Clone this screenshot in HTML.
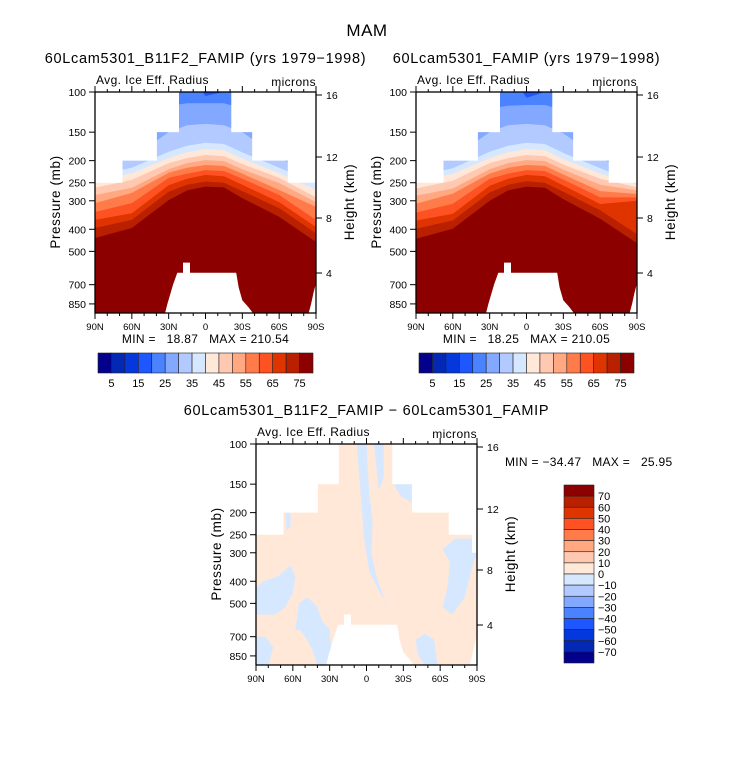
<!DOCTYPE html>
<html><head><meta charset="utf-8"><style>
body{margin:0;background:#fff;}
svg{display:block;font-family:"Liberation Sans",sans-serif;}
text{white-space:pre;}
</style></head><body>
<svg id="chart" width="733" height="758" viewBox="0 0 733 758" xmlns="http://www.w3.org/2000/svg">
<text x="367" y="36" font-size="17" text-anchor="middle" letter-spacing="0.5">MAM</text>
</svg>
<script>
// ---- data ----
const palette = ['#03008c','#0228b4','#0438dc','#1e56ff','#4a82ff','#82a8ff','#b2caff','#d6e8ff','#ffe8d8','#ffc8b0','#ffa882','#ff7c4a','#ff5222','#e03400','#b82000','#8c0000'];
const lats = [90,60,30,15,0,-15,-30,-60,-90];
const levels = [75,70,65,60,55,50,45,40,35,30,25,20];
const leftBounds = [
 [437,395,298,270,260,262,292,353,455],
 [395,364,274,255,247,250,272,323,416],
 [364,340,256,240,231,234,255,304,391],
 [336,307,238,228,220,222,240,283,364],
 [307,277,226,215,209,211,228,269,319],
 [283,263,218,205,199,201,218,251,304],
 [263,243,205,195,189,191,207,238,290],
 [245,227,195,184,178,180,196,227,269],
 [232,215,183,172,167,169,184,215,251],
 [200,195,150,140,138,140,150,195,230],
 [150,150,115,112,112,112,118,150,150],
 [80,80,80,80,104,100,80,80,80]
];
const rightBounds = [
 [440,398,300,270,260,263,295,360,460],
 [398,366,276,255,246,250,274,330,420],
 [366,342,258,240,231,234,257,310,300],
 [338,309,240,228,220,222,242,290,290],
 [309,279,228,215,209,211,230,272,280],
 [285,265,218,205,199,201,219,255,270],
 [265,245,205,195,189,191,208,240,262],
 [247,229,195,184,178,180,197,228,255],
 [234,216,183,172,167,169,185,216,250],
 [200,195,150,140,138,140,152,195,230],
 [150,150,118,115,114,114,120,150,150],
 [80,80,80,80,106,100,80,80,80]
];
const dataTop = [[90,68,250],[68,40,200],[40,22,150],[22,-21,100],[-21,-38,150],[-38,-67,200],[-67,-90,250]];
const topoMask = [[33,935],[31,850],[26.5,700],[23,620],[18.3,620],[18.3,560],[12.6,560],[12.6,620],[-25,620],[-27,720],[-30,820],[-35,880],[-38.7,935]];
const poleMask = [[-84,935],[-86,850],[-88,760],[-90,690],[-90,935]];
const diffTop = [[90,68,250],[68,40,200],[40,23,150],[23,-21,100],[-21,-37,150],[-37,-67,200],[-67,-86,250],[-86,-90,300]];
const diffBlue = [
 [[90,430],[84,400],[72,380],[62,340],[58,380],[60,450],[66,520],[75,560],[90,560]],
 [[55,500],[48,470],[40,520],[36,600],[30,650],[28,935],[40,935],[44,800],[50,700],[58,650]],
 [[90,700],[82,700],[76,780],[80,935],[90,935]],
 [[8,100],[0,100],[-2,160],[-5,220],[-4,300],[-8,380],[-14,470],[-18,520],[-10,440],[-2,360],[2,260],[5,160]],
 [[-6,100],[-14,100],[-14,140],[-10,160]],
 [[-62,290],[-68,330],[-66,420],[-62,520],[-70,560],[-80,470],[-86,350],[-90,300],[-86,260],[-72,260]],
 [[-22,150],[-37,150],[-37,180],[-28,170]],
 [[-40,720],[-48,680],[-55,720],[-58,935],[-48,935],[-42,850]],
 [[66,200],[62,200],[62,230],[65,240]]
];
const diffPeach = [
 [[62,700],[55,650],[50,700],[52,935],[60,935]]
];
const pTicks = [100,150,200,250,300,400,500,700,850];
const hTicks = [16,12,8,4];
const hOffsets = [3,65,126,181];
const latTicks = [90,60,30,0,-30,-60,-90];
const latLabels = ['90N','60N','30N','0','30S','60S','90S'];
const cbLabelsTop = ['5','15','25','35','45','55','65','75'];
const cbLabelsDiff = ['70','60','50','40','30','20','10','0','\u221210','\u221220','\u221230','\u221240','\u221250','\u221260','\u221270'];

// ---- drawing ----
const NS='http://www.w3.org/2000/svg';
const svg=document.getElementById('chart');
function el(tag,attrs,parent,text){const e=document.createElementNS(NS,tag);for(const k in attrs)e.setAttribute(k,attrs[k]);if(text!==undefined)e.textContent=text;(parent||svg).appendChild(e);return e;}
const W=221,H=221,K=228;
function mk(x0,y0){return {x:lat=>x0+(90-lat)/180*W, y:p=>y0+K*Math.log10(p/100), x0,y0};}
let clipN=0;
function panelBase(x0,y0,name){
  const g=el('g',{});
  
  
  const id='clip'+(clipN++);
  const cp=el('clipPath',{id},g);el('rect',{x:x0,y:y0,width:W,height:H},cp);
  const inner=el('g',{'clip-path':`url(#${id})`},g);
  return {g,inner};
}
function polyPts(a,ax){return a.map(([la,p])=>ax.x(la).toFixed(1)+','+ax.y(p).toFixed(1)).join(' ');}
function masks(inner,ax,steps){
  steps.forEach(([a,b,p])=>{const r=el('rect',{x:ax.x(a),y:ax.y0-1,width:ax.x(b)-ax.x(a)+0.5,height:ax.y(p)-ax.y0+1,fill:'#fff'},inner);
    });
  [topoMask,poleMask].forEach(m=>{const p=el('polygon',{points:polyPts(m,ax),fill:'#fff'},inner);
    });
}
function axes(g,ax,title,left){
  const x0=ax.x0,y0=ax.y0;
  el('rect',{x:x0,y:y0,width:W,height:H,fill:'none',stroke:'#000','stroke-width':1.3},g);
  for(let la=90;la>=-90;la-=10){const x=ax.x(la);const maj=la%30===0;const L=maj?6:3;
    el('line',{x1:x,y1:y0+H,x2:x,y2:y0+H+L,stroke:'#000'},g);el('line',{x1:x,y1:y0,x2:x,y2:y0-L,stroke:'#000'},g);}
  latTicks.forEach((la,i)=>{const t=el('text',{x:ax.x(la),y:y0+H+17,'font-size':9.5,'text-anchor':'middle'},g,latLabels[i]);
    });
  pTicks.forEach(p=>{const y=ax.y(p);el('line',{x1:x0,y1:y,x2:x0-6,y2:y,stroke:'#000'},g);
    const t=el('text',{x:x0-9,y:y+4,'font-size':10.5,'text-anchor':'end'},g,p);
    });
  hTicks.forEach((h,i)=>{const y=y0+hOffsets[i];el('line',{x1:x0+W,y1:y,x2:x0+W+6,y2:y,stroke:'#000'},g);
    const t=el('text',{x:x0+W+10,y:y+4,'font-size':10.5},g,h);
    });
  let t=el('text',{x:(x0+W/2),y:y0-29,'font-size':14.5,'text-anchor':'middle','letter-spacing':'0.7'},g,title);
  
  t=el('text',{x:x0+1,y:y0-8,'font-size':12,'letter-spacing':'0.4'},g,'Avg. Ice Eff. Radius');
  
  t=el('text',{x:x0+W,y:y0-6,'font-size':12,'text-anchor':'end','letter-spacing':'0.4'},g,'microns');
  
  if(left){t=el('text',{transform:`translate(${x0-35},${y0+110}) rotate(-90)`,'font-size':13.5,'text-anchor':'middle','letter-spacing':'0.6'},g,'Pressure (mb)');
    }
  t=el('text',{transform:`translate(${x0+W+38},${y0+110}) rotate(-90)`,'font-size':13.5,'text-anchor':'middle','letter-spacing':'0.6'},g,'Height (km)');
  
}
function fieldPanel(x0,y0,bounds,title,minmax,name,left){
  const ax=mk(x0,y0);const {g,inner}=panelBase(x0,y0,name);
  el('rect',{x:x0,y:y0,width:W,height:H,fill:palette[15]},inner);
  levels.forEach((L,k)=>{
    const pts=[[90,80]].concat(lats.map((la,i)=>[la,bounds[k][i]])).concat([[-90,80]]);
    const pg=el('polygon',{points:polyPts(pts,ax),fill:palette[(L-5)/5]},inner);
    
    
  });
  masks(inner,ax,dataTop);
  axes(g,ax,title,left);
  const t=el('text',{x:x0+W/2,y:y0+H+30,'font-size':12,'text-anchor':'middle','letter-spacing':'0.3'},g,minmax);
  
  const cb=el('g',{},g);
  const cx=x0+3,cw=215/16,cy=y0+261,ch=20;
  palette.forEach((c,i)=>{const r=el('rect',{x:cx+i*cw,y:cy,width:cw,height:ch,fill:c,stroke:'#222','stroke-width':0.6},cb);
    });
  cbLabelsTop.forEach((s,i)=>{const tt=el('text',{x:cx+(1+2*i)*cw,y:cy+34,'font-size':11,'text-anchor':'middle'},cb,s);
    });
}
fieldPanel(95,92,leftBounds,'60Lcam5301_B11F2_FAMIP (yrs 1979\u22121998)','MIN =   18.87   MAX = 210.54','panel-b11f2',true);
fieldPanel(416,92,rightBounds,'60Lcam5301_FAMIP (yrs 1979\u22121998)','MIN =   18.25   MAX = 210.05','panel-famip',true);

(function(){
  const x0=256,y0=444;const ax=mk(x0,y0);const {g,inner}=panelBase(x0,y0,'panel-difference');
  el('rect',{x:x0,y:y0,width:W,height:H,fill:palette[8]},inner);
  diffBlue.forEach(b=>{const p=el('polygon',{points:polyPts(b,ax),fill:palette[7]},inner);
    });
  diffPeach.forEach(b=>{const p=el('polygon',{points:polyPts(b,ax),fill:palette[8]},inner);
    });
  masks(inner,ax,diffTop);
  axes(g,ax,'60Lcam5301_B11F2_FAMIP \u2212 60Lcam5301_FAMIP',true);
  let t=el('text',{x:505,y:466,'font-size':12,'letter-spacing':'0.3'},g,'MIN = \u221234.47   MAX =   25.95');
  
  const cb=el('g',{},g);
  const cx=564,cy=485,cw=30,ch=178/16;
  for(let i=0;i<16;i++){const r=el('rect',{x:cx,y:cy+i*ch,width:cw,height:ch,fill:palette[15-i],stroke:'#222','stroke-width':0.6},cb);
    }
  cbLabelsDiff.forEach((s,i)=>{const tt=el('text',{x:cx+cw+4,y:cy+(i+1)*ch+4,'font-size':11},cb,s);
    });
})();
</script>
</body></html>
